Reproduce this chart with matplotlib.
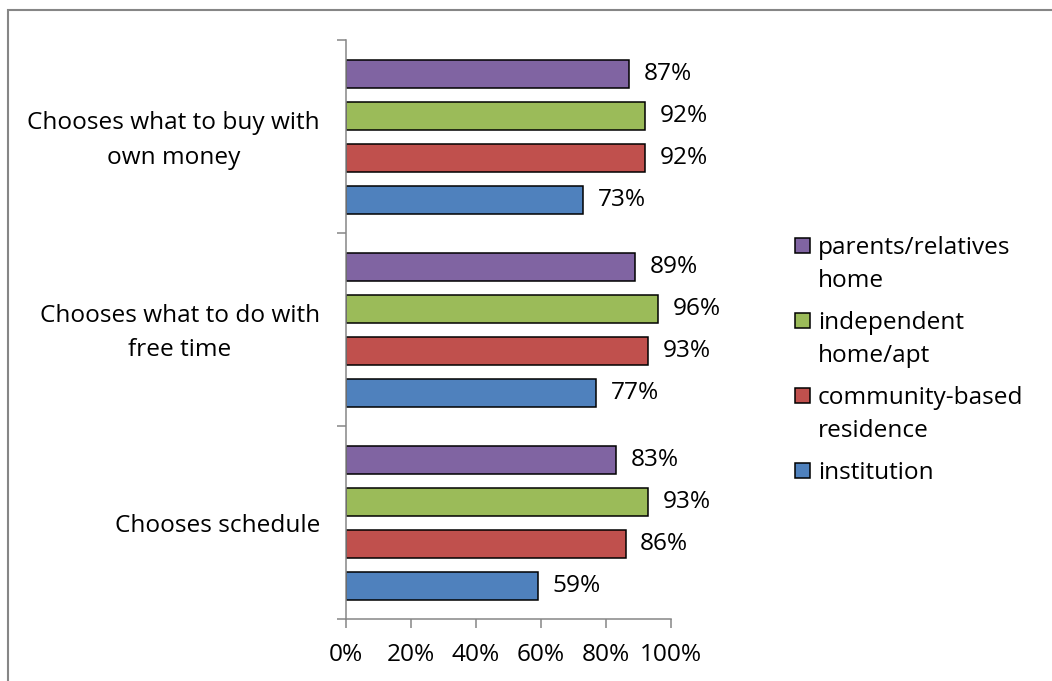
import matplotlib
matplotlib.use('Agg')
import matplotlib.pyplot as plt
import matplotlib.transforms as mtransforms
from matplotlib.patches import Rectangle

categories = ['Chooses what to buy with\nown money',
              'Chooses what to do with\nfree time',
              'Chooses schedule']
series = ['parents/relatives\nhome', 'independent\nhome/apt',
          'community-based\nresidence', 'institution']
parents = [87, 89, 83]
independent = [92, 96, 93]
community = [92, 93, 86]
institution = [73, 77, 59]
colors = ['#8064A2', '#9BBB59', '#C0504D', '#4F81BD']
x_ticks = [0, 20, 40, 60, 80, 100]

plt.rcParams['font.family'] = ['Open Sans', 'DejaVu Sans']
FS = 17.6
GREY = '#868686'

W, H = 1052, 681
fig = plt.figure(figsize=(W / 100, H / 100), dpi=100)
ax = fig.add_axes([346 / W, (H - 619) / H, (671 - 346) / W, (619 - 40) / H])

# outer chart border (only the top and left edges fall inside the image)
fig.patches.append(Rectangle((8 / W, -0.1), 1.2, (H - 10) / H + 0.1,
                             transform=fig.transFigure, fill=False,
                             edgecolor=GREY, linewidth=1.5))

CAT_PX = 193  # pixel height of one category band
slot = 42 / CAT_PX
bar_h = 28 / CAT_PX
offset = 20 / CAT_PX
values = [parents, independent, community, institution]
for s, (vals, col) in enumerate(zip(values, colors)):
    for c, v in enumerate(vals):
        y = c + offset + s * slot + bar_h / 2
        ax.barh(y, v / 100, height=bar_h, color=col, edgecolor='black',
                linewidth=1.1)
        ax.text(v / 100 + 0.045, y, f'{v}%', va='center', ha='left', fontsize=FS)

ax.set_xlim(0, 1)
ax.set_ylim(3, 0)
ax.set_xticks([t / 100 for t in x_ticks])
ax.set_xticklabels([f'{t}%' for t in x_ticks], fontsize=FS)
ax.set_yticks([0, 1, 2, 3])
ax.set_yticklabels([])
ax.tick_params(axis='both', which='major', length=6.5, width=1.1, color=GREY)
ax.tick_params(axis='x', pad=11)

# category labels: right edge 26 px left of the axis, lines centred
cat_trans = mtransforms.offset_copy(ax.transData, fig=fig, x=-26, y=0, units='dots')
for c, label in enumerate(categories):
    n = label.count('\n') + 1
    last_base = 9.5 + 17.5 * (n - 1)
    ax.text(0, c + 0.5 + last_base / CAT_PX, label, transform=cat_trans,
            ha='right', va='baseline', multialignment='center',
            fontsize=FS, linespacing=1.6, clip_on=False)

for side in ['top', 'right']:
    ax.spines[side].set_visible(False)
for side in ['left', 'bottom']:
    ax.spines[side].set_color(GREY)
    ax.spines[side].set_linewidth(1.1)

# legend: square key beside the first line of each label
for i, (name, col) in enumerate(zip(series, colors)):
    yc = 245 + 75.3 * i
    fig.patches.append(Rectangle((795 / W, (H - yc - 7.5) / H), 15 / W, 15 / H,
                                 transform=fig.transFigure, facecolor=col,
                                 edgecolor='black', linewidth=1.1))
    for j, line in enumerate(name.split('\n')):
        fig.text(818 / W, (H - yc - 8.5 - 33 * j) / H, line, ha='left',
                 va='baseline', fontsize=FS)

fig.savefig('out.png', dpi=100)
